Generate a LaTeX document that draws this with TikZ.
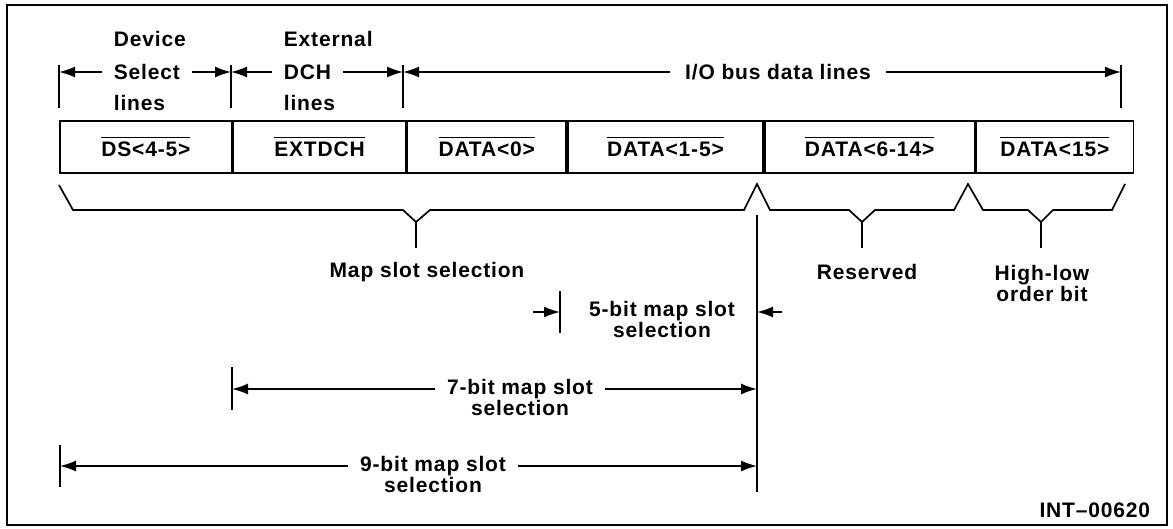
\documentclass[tikz,border=0pt]{standalone}
\usepackage{fontspec}
\setmainfont{Liberation Sans}[LetterSpace=4]
\usetikzlibrary{arrows.meta, positioning, calc}
\newcommand{\sigbar}[1]{\vbox{\hrule height 1.6pt\kern 4pt\hbox{#1}}}

\begin{document}
\begin{tikzpicture}[
        x=1pt, y=-1pt, line width=1.7pt,
        font=\fontsize{21}{21}\selectfont\bfseries,
        cell/.style={draw, minimum height=52pt, inner sep=0pt},
        dlbl/.style={inner xsep=11pt, inner ysep=0pt},
        toplbl/.style={inner sep=0pt, anchor=base west},
        sublbl/.style={inner sep=0pt, anchor=base},
        dim/.style={-{Latex[length=16pt,width=11pt]}, line width=1.6pt}
    ]
        \useasboundingbox (0,0) rectangle (1173,529);
        \draw (7,5) rectangle (1167,525);
        % Fields
        \node[cell, minimum width=172pt, anchor=north west] (ds) at (59,120) {\sigbar{DS<4-5>}};
        \node[cell, minimum width=172pt, right=0pt of ds] (extdch) {\sigbar{EXTDCH}};
        \node[cell, minimum width=159pt, right=0pt of extdch] (dzero) {\sigbar{DATA<0>}};
        \node[cell, minimum width=195pt, right=0pt of dzero] (dlow) {\sigbar{DATA<1-5>}};
        \node[cell, minimum width=210pt, right=0pt of dlow] (dmid) {\sigbar{DATA<6-14>}};
        \node[cell, minimum width=157pt, right=0pt of dmid] (dhigh) {\sigbar{DATA<15>}};
        % Line groups
        \foreach \n/\x in {0/59, 1/231, 2/403, 3/1121}{
            \coordinate (tk\n) at (\x,65);
            \draw (tk\n) -- ++(0,43);
        }
        \node[dlbl, anchor=west] (dsl) at (102,72) {Select};
        \node[toplbl] (dsltop) at ($(dsl.base west)+(11,-33)$) {Device};
        \node[toplbl] (dslbot) at ($(dsl.base west)+(11,31)$) {lines};
        \draw[dim] (dsl.west) -- (dsl.west -| tk0);
        \draw[dim] (dsl.east) -- (dsl.east -| tk1);
        \node[dlbl, anchor=west] (extl) at (272,72) {DCH};
        \node[toplbl] (extltop) at ($(extl.base west)+(11,-33)$) {External};
        \node[toplbl] (extlbot) at ($(extl.base west)+(11,31)$) {lines};
        \draw[dim] (extl.west) -- (extl.west -| tk1);
        \draw[dim] (extl.east) -- (extl.east -| tk2);
        \node[dlbl, inner xsep=14pt] (iol) at (778,72) {I/O bus data lines};
        \draw[dim] (iol.west) -- (iol.west -| tk2);
        \draw[dim] (iol.east) -- (iol.east -| tk3);
        % Braces
        \draw[line join=miter] (59,185) -- (73,210) -- (403,210) -- (416,222) -- (430,210) -- (744,210)
            -- (757,184) -- (770,210) -- (849,210) -- (862,222) -- (875,210) -- (954,210)
            -- (968,184) -- (983,210) -- (1028,210) -- (1041,222) -- (1053,210) -- (1112,210) -- (1125,184);
        \foreach \x in {416, 862, 1041}
            \draw (\x,222) -- (\x,248);
        \node[inner sep=0pt] (mapsel) at (427,272) {Map slot selection};
        \node[inner sep=0pt] (resv) at (867,272) {Reserved};
        \node[inner sep=0pt, align=center] (hilo) at (1042,283) {High-low\\order bit};
        % Slot selection widths
        \coordinate (bndtop) at (757,215);
        \coordinate (bndbot) at (757,492);
        \draw (bndtop) -- (bndbot);
        \coordinate (tk5) at (560,291);
        \draw (tk5) -- ++(0,42);
        \node[dlbl] (five) at (662,311) {5-bit map slot};
        \node[sublbl] (fivesub) at ($(five.base)+(0,21)$) {selection};
        \coordinate (f5l) at (533,312);
        \coordinate (f5r) at (782,312);
        \draw[dim] (f5l) -- (f5l -| tk5);
        \draw[dim] (f5r) -- (f5r -| bndtop);
        \coordinate (tk7) at (232,367);
        \draw (tk7) -- ++(0,43);
        \node[dlbl] (seven) at (520,389) {7-bit map slot};
        \node[sublbl] (sevensub) at ($(seven.base)+(0,21)$) {selection};
        \draw[dim] (seven.west) -- (seven.west -| tk7);
        \draw[dim] (seven.east) -- (seven.east -| bndtop);
        \coordinate (tk9) at (60,445);
        \draw (tk9) -- ++(0,42);
        \node[dlbl] (nine) at (433,466) {9-bit map slot};
        \node[sublbl] (ninesub) at ($(nine.base)+(0,21)$) {selection};
        \draw[dim] (nine.west) -- (nine.west -| tk9);
        \draw[dim] (nine.east) -- (nine.east -| bndtop);
        \node[inner sep=0pt, anchor=east] (fignum) at (1151,510) {INT--00620};
    \end{tikzpicture}
\end{document}
